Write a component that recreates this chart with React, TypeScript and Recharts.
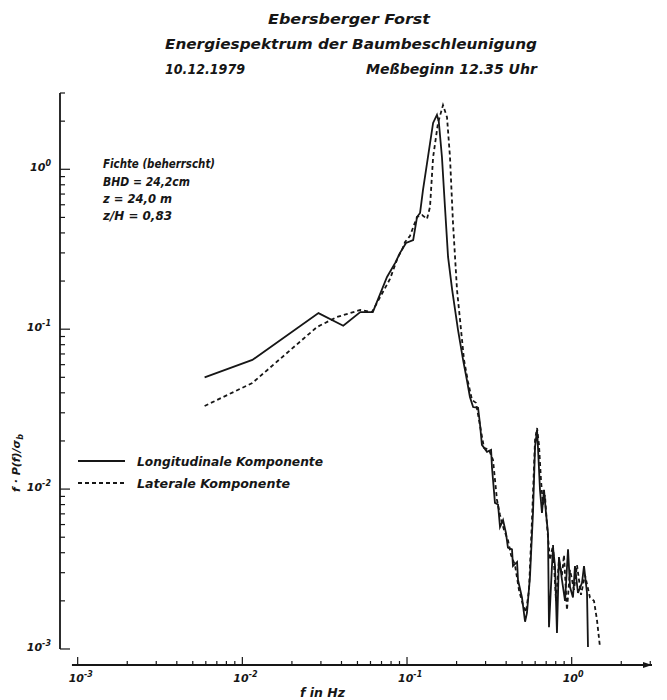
import { LineChart, Line, XAxis, YAxis, ReferenceLine, ReferenceDot } from 'recharts'

const FONT = '"DejaVu Sans", sans-serif'
const INK = '#161616'

// Longitudinale Komponente (solid)
const LONG_F = [
  0.0059, 0.0115, 0.029, 0.041, 0.052, 0.062, 0.0756, 0.0846, 0.0907, 0.0986, 0.109, 0.115, 0.12,
  0.125, 0.134, 0.144, 0.152, 0.156, 0.163, 0.17, 0.1775, 0.188, 0.204, 0.219, 0.231, 0.241, 0.252,
  0.27, 0.277, 0.285, 0.306, 0.324, 0.328, 0.342, 0.357, 0.367, 0.383, 0.399, 0.41, 0.434, 0.44,
  0.466, 0.472, 0.499, 0.521, 0.535, 0.558, 0.582, 0.599, 0.616, 0.624, 0.642, 0.66, 0.679, 0.698,
  0.718, 0.728, 0.759, 0.77, 0.792, 0.814, 0.837, 0.873, 0.911, 0.95, 0.977, 1.018, 1.047, 1.092,
  1.155, 1.188, 1.239, 1.256,
]
const LONG_V = [
  0.05, 0.0642, 0.126, 0.105, 0.128, 0.128, 0.212, 0.259, 0.3, 0.346, 0.361, 0.503, 0.533,
  0.742, 1.19, 1.95, 2.19, 1.98, 1.19, 0.581, 0.283, 0.176, 0.099, 0.0642, 0.0481, 0.0377, 0.0326,
  0.0322, 0.0259, 0.0189, 0.0171, 0.0176, 0.0137, 0.0082, 0.008, 0.0058, 0.0064, 0.0053, 0.0043, 0.0042, 0.0033,
  0.0035, 0.0027, 0.0021, 0.00148, 0.00168, 0.00282, 0.00709, 0.0183, 0.0234, 0.0183, 0.00987, 0.0071, 0.0099, 0.0071,
  0.0053, 0.00137, 0.0033, 0.0043, 0.0033, 0.00126, 0.00376, 0.0027, 0.002, 0.0042, 0.00244, 0.0021, 0.0033, 0.00224,
  0.00259, 0.0033, 0.00224, 0.00103,
]

// Laterale Komponente (dashed)
const LAT_F = [
  0.0059, 0.0115, 0.0284, 0.0376, 0.052, 0.0613, 0.0788, 0.0882, 0.0932, 0.0973, 0.1042, 0.115, 0.1234,
  0.1322, 0.1379, 0.144, 0.1543, 0.1654, 0.1749, 0.1824, 0.1902, 0.2012, 0.2128, 0.2219, 0.2347, 0.2481,
  0.2624, 0.2737, 0.2934, 0.3147, 0.3328, 0.3519, 0.367, 0.3881, 0.41, 0.428, 0.4526, 0.4786, 0.5062,
  0.5279, 0.5505, 0.5741, 0.599, 0.616, 0.633, 0.651, 0.669, 0.688, 0.708, 0.738, 0.77, 0.803, 0.837,
  0.873, 0.898, 0.936, 0.977, 1.033, 1.077, 1.139, 1.204, 1.291, 1.366, 1.424, 1.485,
]
const LAT_V = [
  0.0331, 0.0461, 0.1032, 0.1192, 0.1318, 0.128, 0.206, 0.283, 0.313, 0.351, 0.3827, 0.503, 0.518,
  0.489, 0.581, 1.19, 1.95, 2.52, 2.12, 1.19, 0.4616, 0.176, 0.099, 0.0642, 0.0468, 0.0361,
  0.0346, 0.027, 0.0181, 0.0176, 0.0152, 0.00855, 0.00689, 0.00555, 0.0048, 0.00387, 0.00335, 0.00234, 0.00188,
  0.0017, 0.00234, 0.0064, 0.0203, 0.0241, 0.0189, 0.0114, 0.008, 0.00918, 0.00596, 0.0036, 0.00447, 0.002, 0.0036,
  0.0029, 0.00387, 0.00175, 0.00312, 0.00234, 0.00335, 0.00218, 0.0029, 0.0021, 0.002, 0.00152, 0.00103,
]

const X_TICKS = [
  0.001, 0.002, 0.003, 0.004, 0.005, 0.006, 0.007, 0.008, 0.009,
  0.01, 0.02, 0.03, 0.04, 0.05, 0.06, 0.07, 0.08, 0.09,
  0.1, 0.2, 0.3, 0.4, 0.5, 0.6, 0.7, 0.8, 0.9,
  1, 2, 3,
]
const Y_TICKS = [
  0.001, 0.002, 0.003, 0.004, 0.005, 0.006, 0.007, 0.008, 0.009,
  0.01, 0.02, 0.03, 0.04, 0.05, 0.06, 0.07, 0.08, 0.09,
  0.1, 0.2, 0.3, 0.4, 0.5, 0.6, 0.7, 0.8, 0.9,
  1, 2, 3,
]

const X_DOMAIN: [number, number] = [0.000781, 3.074]
const Y_DOMAIN: [number, number] = [0.000794, 3]
const X_AXIS_START = 0.000923

const longData = LONG_F.map((f, i) => ({ f, v: LONG_V[i] }))
const latData = LAT_F.map((f, i) => ({ f, v: LAT_V[i] }))

function isMajor(v: number) {
  const l = Math.log10(v)
  return Math.abs(l - Math.round(l)) < 1e-9
}

function XTick(props: any) {
  const { x, y, payload } = props
  const v = payload.value
  const major = isMajor(v)
  return (
    <g>
      <line x1={x} y1={y} x2={x} y2={y - (major ? 8 : 4)} stroke={INK} strokeWidth={1.2} />
      {major && (
        <text x={x - 9} y={y + 17} fontFamily={FONT} fontStyle="italic" fontWeight="bold" fontSize={11} fill={INK}>
          10<tspan dy={-5} fontSize={8}>{String(Math.round(Math.log10(v)))}</tspan>
        </text>
      )}
    </g>
  )
}

function YTick(props: any) {
  const { x, y, payload } = props
  const v = payload.value
  const major = isMajor(v)
  return (
    <g>
      <line x1={x} y1={y} x2={x + (major ? 10 : 5)} y2={y} stroke={INK} strokeWidth={1.2} />
      {major && (
        <text
          x={x - 9}
          y={y + 2}
          textAnchor="end"
          fontFamily={FONT}
          fontStyle="italic"
          fontWeight="bold"
          fontSize={11}
          fill={INK}
        >
          10<tspan dy={-5} fontSize={8}>{String(Math.round(Math.log10(v)))}</tspan>
        </text>
      )}
    </g>
  )
}

const txt = {
  fontFamily: FONT,
  fontStyle: 'italic' as const,
  fontWeight: 'bold' as const,
  fill: INK,
  lengthAdjust: 'spacingAndGlyphs' as const,
}

export default function App() {
  return (
    <div style={{ position: 'absolute', left: 0, top: 0, width: 667, height: 700, background: '#fff' }}>
      <LineChart width={667} height={700} margin={{ top: 93, right: 15, left: 0, bottom: 0 }}>
        <XAxis
          dataKey="f"
          type="number"
          scale="log"
          domain={X_DOMAIN}
          allowDataOverflow
          ticks={X_TICKS}
          interval={0}
          height={35}
          tickSize={0}
          tickMargin={0}
          axisLine={false}
          tick={<XTick />}
        />
        <YAxis
          type="number"
          scale="log"
          domain={Y_DOMAIN}
          allowDataOverflow
          ticks={Y_TICKS}
          interval={0}
          width={60}
          tickSize={0}
          tickMargin={0}
          axisLine={false}
          tick={<YTick />}
        />
        <ReferenceLine
          segment={[{ x: X_DOMAIN[0], y: 0.001 }, { x: X_DOMAIN[0], y: 3 }]}
          stroke={INK}
          strokeWidth={1.8}
          ifOverflow="visible"
        />
        <ReferenceLine
          segment={[{ x: X_AXIS_START, y: Y_DOMAIN[0] }, { x: X_DOMAIN[1], y: Y_DOMAIN[0] }]}
          stroke={INK}
          strokeWidth={1.8}
          ifOverflow="visible"
        />
        <ReferenceDot
          x={X_DOMAIN[1]}
          y={Y_DOMAIN[0]}
          ifOverflow="visible"
          shape={(p: any) => (
            <path d={`M${p.cx},${p.cy} L${p.cx - 9},${p.cy - 3} L${p.cx - 9},${p.cy + 3} Z`} fill={INK} />
          )}
        />
        <Line
          data={latData}
          dataKey="v"
          type="linear"
          stroke={INK}
          strokeWidth={1.8}
          strokeDasharray="4 3"
          dot={false}
          isAnimationActive={false}
        />
        <Line
          data={longData}
          dataKey="v"
          type="linear"
          stroke={INK}
          strokeWidth={1.8}
          dot={false}
          isAnimationActive={false}
        />
      </LineChart>
      <svg
        width={667}
        height={700}
        style={{ position: 'absolute', left: 0, top: 0, pointerEvents: 'none' }}
      >
        <text {...txt} x={268} y={24} fontSize={14} textLength={162}>Ebersberger Forst</text>
        <text {...txt} x={165} y={49} fontSize={14} textLength={372}>Energiespektrum der Baumbeschleunigung</text>
        <text {...txt} x={165} y={74} fontSize={14} textLength={80}>10.12.1979</text>
        <text {...txt} x={366} y={74} fontSize={14} textLength={171}>Meßbeginn 12.35 Uhr</text>

        <text {...txt} x={103} y={168} fontSize={12} textLength={112}>Fichte (beherrscht)</text>
        <text {...txt} x={103} y={186} fontSize={12} textLength={87}>BHD = 24,2cm</text>
        <text {...txt} x={103} y={203} fontSize={12} textLength={69}>z = 24,0 m</text>
        <text {...txt} x={103} y={220} fontSize={12} textLength={69}>z/H = 0,83</text>

        <line x1={78} y1={461} x2={125} y2={461} stroke={INK} strokeWidth={1.8} />
        <text {...txt} x={137} y={466} fontSize={12} textLength={186}>Longitudinale Komponente</text>
        <line x1={78} y1={483} x2={125} y2={483} stroke={INK} strokeWidth={1.8} strokeDasharray="4 3" />
        <text {...txt} x={137} y={488} fontSize={12} textLength={153}>Laterale Komponente</text>

        <text
          fontFamily={FONT}
          fontStyle="italic"
          fontWeight="bold"
          fill={INK}
          fontSize={11}
          textAnchor="middle"
          transform="translate(20 463) rotate(-90)"
        >
          f · P(f)/σ<tspan dy={3} fontSize={8}>b</tspan>
        </text>
        <text {...txt} x={300} y={697} fontSize={12} textLength={45}>f in Hz</text>
      </svg>
    </div>
  )
}
